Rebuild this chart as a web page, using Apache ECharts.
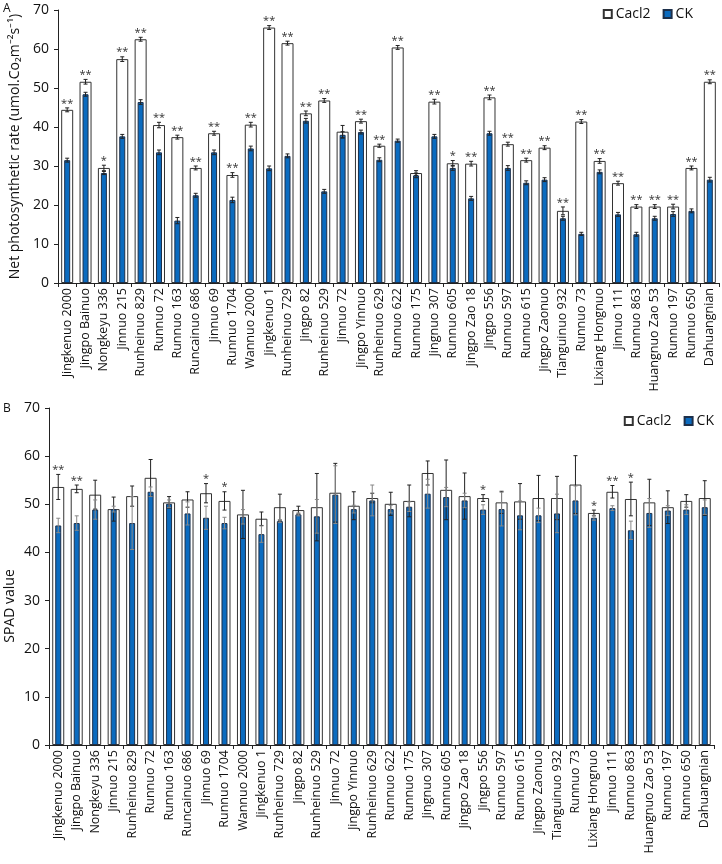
<!DOCTYPE html>
<html>
<head>
<meta charset="utf-8">
<script src="https://cdn.jsdelivr.net/npm/echarts@6/dist/echarts.min.js"></script>
<style>
  html, body { margin: 0; padding: 0; background: #fff; }
  #chart { width: 722px; height: 864px; }
</style>
</head>
<body>
<div id="chart"></div>
<script>
const categories = [
  "Jingkenuo 2000", "Jingpo Bainuo", "Nongkeyu 336", "Jinnuo 215", "Runheinuo 829",
  "Runnuo 72", "Runnuo 163", "Runcainuo 686", "Jinnuo 69", "Runnuo 1704",
  "Wannuo 2000", "Jingkenuo 1", "Runheinuo 729", "Jingpo 82", "Runheinuo 529",
  "Jinnuo 72", "Jingpo Yinnuo", "Runheinuo 629", "Runnuo 622", "Runnuo 175",
  "Jingnuo 307", "Runnuo 605", "Jingpo Zao 18", "Jingpo 556", "Runnuo 597",
  "Runnuo 615", "Jingpo Zaonuo", "Tianguinuo 932", "Runnuo 73", "Lixiang Hongnuo",
  "Jinnuo 111", "Runnuo 863", "Huangnuo Zao 53", "Runnuo 197", "Runnuo 650",
  "Dahuangnian"
];

// panel A: net photosynthetic rate
const rateCacl2 = [44.4, 51.6, 29.5, 57.4, 62.5, 40.5, 37.4, 29.5, 38.4, 27.7, 40.6, 65.5,
  61.5, 43.5, 46.8, 38.8, 41.5, 35.2, 60.4, 28.2, 46.5, 30.7, 30.6, 47.6, 35.6, 31.5,
  34.7, 18.5, 41.4, 31.3, 25.6, 19.6, 19.6, 19.6, 29.5, 51.6];
const rateCK = [31.5, 48.4, 28.2, 37.6, 46.4, 33.5, 16.0, 22.5, 33.5, 21.3, 34.5, 29.4,
  32.6, 41.6, 23.5, 38.0, 38.7, 31.6, 36.5, 27.6, 37.6, 29.5, 21.7, 38.4, 29.5, 25.7,
  26.5, 16.6, 12.6, 28.5, 17.6, 12.5, 16.6, 17.7, 18.5, 26.5];
const rateCacl2Err = [0.5, 0.6, 0.7, 0.6, 0.5, 0.7, 0.5, 0.5, 0.5, 0.6, 0.6, 0.5, 0.5, 0.6,
  0.5, 1.6, 0.5, 0.4, 0.5, 0.6, 0.6, 0.7, 0.6, 0.6, 0.5, 0.5, 0.5, 1.0, 0.5, 0.6, 0.5,
  0.5, 0.5, 0.6, 0.5, 0.5];
const rateCKErr = [0.5, 0.5, 0.4, 0.5, 0.6, 0.6, 0.8, 0.5, 0.6, 0.7, 0.6, 0.6, 0.5, 0.6,
  0.5, 0.8, 0.5, 0.5, 0.4, 0.6, 0.5, 0.6, 0.5, 0.5, 0.6, 0.5, 0.5, 0.5, 0.4, 0.5, 0.5,
  0.5, 0.5, 0.6, 0.5, 0.6];
const rateStars = ["**", "**", "*", "**", "**", "**", "**", "**", "**", "**", "**", "**",
  "**", "**", "**", "", "**", "**", "**", "", "**", "*", "**", "**", "**", "**", "**",
  "**", "**", "**", "**", "**", "**", "**", "**", "**"];

// panel B: SPAD value
const spadCacl2 = [53.6, 53.2, 52.0, 49.0, 51.7, 55.5, 50.4, 51.0, 52.3, 50.7, 47.9, 47.0,
  49.4, 48.8, 49.4, 52.4, 49.7, 51.3, 50.1, 50.7, 56.5, 53.0, 51.7, 51.3, 50.4, 50.6,
  51.3, 51.3, 54.1, 48.2, 52.6, 51.1, 50.4, 49.4, 50.7, 51.3];
const spadCK = [45.6, 46.1, 48.9, 49.0, 46.1, 52.6, 50.1, 48.1, 47.2, 46.1, 47.4, 43.8,
  46.5, 47.9, 47.5, 52.0, 49.0, 50.8, 49.0, 49.5, 52.2, 51.5, 50.8, 48.9, 49.0, 47.7,
  47.7, 48.1, 50.8, 47.2, 49.2, 44.6, 48.2, 48.7, 48.9, 49.4];
const spadCacl2Err = [2.6, 0.8, 3.0, 2.5, 2.1, 3.8, 1.2, 1.6, 2.0, 1.9, 5.0, 1.4, 2.7, 0.8,
  7.0, 6.1, 2.9, 1.0, 2.4, 3.3, 2.5, 6.2, 4.8, 0.7, 2.3, 3.7, 4.7, 4.5, 6.0, 0.6, 1.3,
  3.5, 4.8, 3.4, 1.3, 3.6];
const spadCKErr = [1.5, 1.5, 2.0, 0.6, 5.5, 1.0, 0.8, 2.4, 2.4, 1.2, 1.5, 1.7, 0.3, 0.3,
  3.5, 6.0, 0.8, 3.2, 0.8, 1.0, 3.0, 2.0, 1.5, 1.0, 3.5, 3.0, 1.5, 4.0, 3.0, 0.5, 0.5,
  1.9, 3.0, 1.0, 1.0, 1.5];
const spadStars = ["**", "**", "", "", "", "", "", "", "*", "*", "", "", "", "", "", "",
  "", "", "", "", "", "", "", "*", "", "", "", "", "", "*", "**", "*", "", "", "", ""];

const FONT = "Open Sans";
const BLUE = "#0b6bbf";

const chart = echarts.init(document.getElementById("chart"));

// error bars for both series plus the significance stars
function errorBars(cacl2, cacl2Err, ck, ckErr, stars, ckColor) {
  return function (params, api) {
    const i = api.value(0);
    const kids = [];
    let topY = Infinity;
    let x = 0;
    [[cacl2, cacl2Err, "#222"], [ck, ckErr, ckColor]].forEach(function ([v, e, col]) {
      const hi = api.coord([i, v[i] + e[i]]);
      const lo = api.coord([i, v[i] - e[i]]);
      x = hi[0];
      topY = Math.min(topY, hi[1]);
      const st = { stroke: col, lineWidth: 1 };
      kids.push({ type: "line", shape: { x1: x, y1: hi[1], x2: x, y2: lo[1] }, style: st });
      kids.push({ type: "line", shape: { x1: x - 2, y1: hi[1], x2: x + 2, y2: hi[1] }, style: st });
      kids.push({ type: "line", shape: { x1: x - 2, y1: lo[1], x2: x + 2, y2: lo[1] }, style: st });
    });
    if (stars[i]) {
      kids.push({
        type: "text",
        style: {
          text: stars[i], x: x, y: topY + 1, align: "center", verticalAlign: "bottom",
          fontSize: 11, fontFamily: FONT, fill: "#333"
        }
      });
    }
    return { type: "group", children: kids };
  };
}

function catAxis(gridIndex, visible) {
  return {
    type: "category",
    gridIndex: gridIndex,
    data: categories,
    show: visible,
    axisLine: { lineStyle: { color: "#222", width: 1 } },
    axisTick: { show: true, length: 4, interval: 0, lineStyle: { color: "#222" } },
    axisLabel: {
      rotate: 90, interval: 0, margin: 5, color: "#111",
      fontSize: 12.5, fontFamily: FONT
    }
  };
}

function valAxis(gridIndex, extra) {
  return Object.assign({
    type: "value",
    gridIndex: gridIndex,
    min: 0, max: 70, interval: 10,
    splitLine: { show: false },
    axisLine: { show: true, lineStyle: { color: "#222", width: 1 } },
    axisTick: { show: true, length: 4, lineStyle: { color: "#222" } },
    axisLabel: { color: "#111", fontSize: 14, fontFamily: FONT, margin: 9 }
  }, extra);
}

function legend(right, top) {
  return {
    right: right, top: top,
    orient: "horizontal",
    padding: 0,
    data: ["Cacl2", "CK"],
    icon: "rect", itemWidth: 8, itemHeight: 8, itemGap: 12,
    textStyle: { fontSize: 14, fontFamily: FONT, color: "#111", padding: [0, 0, 0, -1] }
  };
}

const option = {
  animation: false,
  backgroundColor: "#fff",
  textStyle: { fontFamily: FONT },
  grid: [
    { left: 56, right: 3, top: 10, height: 273 },
    { left: 49, right: 8, top: 408, height: 337 }
  ],
  xAxis: [catAxis(0, true), catAxis(0, false), catAxis(1, true), catAxis(1, false)],
  yAxis: [
    valAxis(0, {
      name: "Net photosynthetic rate (umol.Co\u2082m\u207B\u00B2s\u207B\u00B9)",
      nameLocation: "middle", nameGap: 36,
      nameTextStyle: { fontSize: 14, fontFamily: FONT, color: "#111" }
    }),
    valAxis(1, {})
  ],
  legend: [legend(29, 7), legend(8, 414)],
  graphic: [
    { type: "text", left: 3, top: 3, style: { text: "A", fontSize: 12, fontFamily: FONT, fill: "#111" } },
    { type: "text", left: 3, top: 403, style: { text: "B", fontSize: 12, fontFamily: FONT, fill: "#111" } },
    {
      type: "text", x: 10, y: 606, rotation: Math.PI / 2,
      style: {
        text: "SPAD value", align: "center", verticalAlign: "middle",
        fontSize: 14, fontFamily: FONT, fill: "#111"
      }
    }
  ],
  series: [
    {
      name: "Cacl2", type: "bar", xAxisIndex: 0, yAxisIndex: 0, barWidth: 12,
      data: rateCacl2,
      itemStyle: { color: "#fff", borderColor: "#333", borderWidth: 1 }
    },
    {
      name: "CK", type: "bar", xAxisIndex: 1, yAxisIndex: 0, barWidth: 6,
      data: rateCK,
      itemStyle: { color: BLUE, borderColor: "#1c2f4a", borderWidth: 1 }
    },
    {
      name: "errA", type: "custom", xAxisIndex: 0, yAxisIndex: 0, z: 5,
      data: rateCacl2.map(function (v, i) { return [i, v]; }),
      encode: { x: 0, y: 1 },
      renderItem: errorBars(rateCacl2, rateCacl2Err, rateCK, rateCKErr, rateStars, "#222")
    },
    {
      name: "Cacl2", type: "bar", xAxisIndex: 2, yAxisIndex: 1, barWidth: 12,
      data: spadCacl2,
      itemStyle: { color: "#fff", borderColor: "#333", borderWidth: 1 }
    },
    {
      name: "CK", type: "bar", xAxisIndex: 3, yAxisIndex: 1, barWidth: 6,
      data: spadCK,
      itemStyle: { color: BLUE, borderColor: "#1c2f4a", borderWidth: 1 }
    },
    {
      name: "errB", type: "custom", xAxisIndex: 2, yAxisIndex: 1, z: 5,
      data: spadCacl2.map(function (v, i) { return [i, v]; }),
      encode: { x: 0, y: 1 },
      renderItem: errorBars(spadCacl2, spadCacl2Err, spadCK, spadCKErr, spadStars, "#888")
    }
  ]
};

chart.setOption(option);
</script>
</body>
</html>
